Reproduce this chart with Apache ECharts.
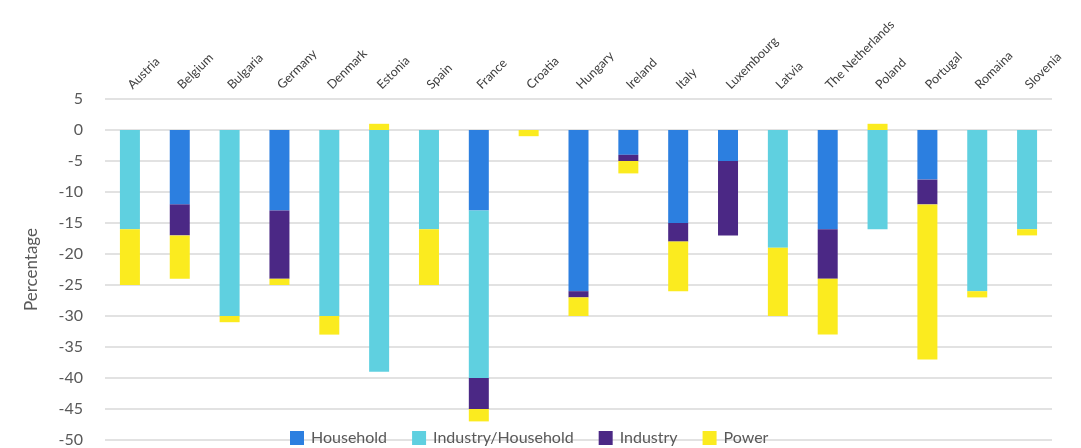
<!DOCTYPE html>
<html>
<head>
<meta charset="utf-8">
<script src="https://cdn.jsdelivr.net/npm/echarts@6/dist/echarts.min.js"></script>
<style>html,body{margin:0;padding:0;background:#fff}#c{width:1081px;height:448px}</style>
</head>
<body>
<div id="c"></div>
<script>
const categories = ["Austria","Belgium","Bulgaria","Germany","Denmark","Estonia","Spain","France","Croatia","Hungary","Ireland","Italy","Luxembourg","Latvia","The Netherlands","Poland","Portugal","Romaina","Slovenia"];
const household =         [0, -12, 0, -13, 0, 0, 0, -13, 0, -26, -4, -15, -5, 0, -16, 0, -8, 0, 0];
const industryHousehold = [-16, 0, -30, 0, -30, -39, -16, -27, 0, 0, 0, 0, 0, -19, 0, -16, 0, -26, -16];
const industry =          [0, -5, 0, -11, 0, 0, 0, -5, 0, -1, -1, -3, -12, 0, -8, 0, -4, 0, 0];
const power =             [-9, -7, -1, -1, -3, 1, -9, -2, -1, -3, -2, -8, 0, -11, -9, 1, -25, -1, -1];
const yTicks = {min: -50, max: 5, interval: 5};
const seriesNames = ["Household","Industry/Household","Industry","Power"];
const colors = ["#2C7FE0","#5FD0E0","#4B2885","#FBEB1F"];

const fontFamily = "Lato, 'Noto Sans', sans-serif";
const clean = a => a.map(v => v === 0 ? '-' : v);
const dataSets = [household, industryHousehold, industry, power];

const chart = echarts.init(document.getElementById('c'), null, {renderer: 'canvas'});
chart.setOption({
  animation: false,
  textStyle: {fontFamily},
  grid: {left: 105, right: 29, top: 99, bottom: 5.5, containLabel: false},
  legend: {
    left: 285, top: 425,
    itemWidth: 14, itemHeight: 14, itemGap: 25,
    icon: 'rect',
    textStyle: {fontSize: 16, color: '#595959', fontFamily, padding: [0, 0, 0, 2]},
    data: seriesNames
  },
  xAxis: {
    type: 'category',
    position: 'top',
    data: categories,
    axisLine: {show: false},
    axisTick: {show: false},
    axisLabel: {rotate: 45, interval: 0, fontSize: 12.5, color: '#404040', margin: 12, fontFamily}
  },
  yAxis: {
    type: 'value',
    min: yTicks.min, max: yTicks.max, interval: yTicks.interval,
    name: 'Percentage',
    nameLocation: 'middle',
    nameGap: 65,
    nameTextStyle: {fontSize: 17, color: '#595959', fontFamily},
    axisLine: {show: false},
    axisTick: {show: false},
    axisLabel: {fontSize: 16, color: '#595959', margin: 22, fontFamily},
    splitLine: {lineStyle: {color: '#d9d9d9', width: 1.5}}
  },
  series: seriesNames.map((n, i) => ({
    name: n,
    type: 'bar',
    stack: 'total',
    barWidth: 20,
    itemStyle: {color: colors[i]},
    data: clean(dataSets[i])
  }))
});
</script>
</body>
</html>
